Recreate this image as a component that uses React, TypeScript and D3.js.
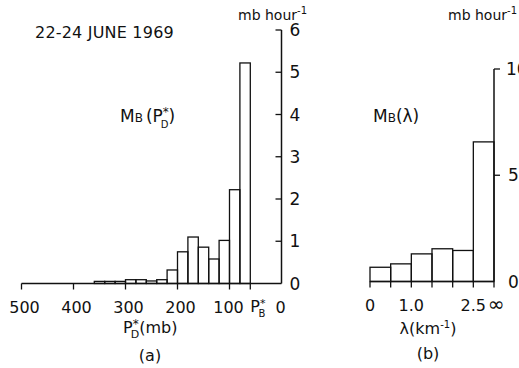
import React from "react";
import * as d3 from "d3";

// Panel (a): M_B(P_D*) histogram, 20 mb bins, values in mb hour^-1
const pdBinTop = [500, 360, 340, 320, 300, 280, 260, 240, 220, 200, 180, 160, 140, 120, 100, 80];
const pdBinBottom = [360, 340, 320, 300, 280, 260, 240, 220, 200, 180, 160, 140, 120, 100, 80, 60];
const pdValues = [0, 0.05, 0.05, 0.05, 0.09, 0.09, 0.06, 0.09, 0.32, 0.75, 1.1, 0.86, 0.58, 1.02, 2.22, 5.22];
const pdTicks = [500, 400, 300, 200, 100];
const pBStar = 60;
const yTicksA = [0, 1, 2, 3, 4, 5, 6];

// Panel (b): M_B(lambda) histogram
const lamStart = [0, 0.5, 1.0, 1.5, 2.0, 2.5];
const lamEnd = [0.5, 1.0, 1.5, 2.0, 2.5, 3.0]; // 3.0 stands for infinity
const lamValues = [0.67, 0.83, 1.3, 1.54, 1.46, 6.57];
const lamTicks = [0, 0.5, 1.0, 1.5, 2.0, 2.5, 3.0];
const lamTickLabels = ["0", "", "1.0", "", "", "2.5", "∞"];
const yTicksB = [0, 5, 10];

const FONT = "'DejaVu Sans', sans-serif";
const INK = "#111";

export default function App() {
  const W = 519, H = 368;
  const xA = d3.scaleLinear().domain([500, 0]).range([21.5, 281.5]);
  const yA = d3.scaleLinear().domain([0, 6]).range([283.5, 30]);
  const xB = d3.scaleLinear().domain([0, 3]).range([370, 494]);
  const yB = d3.scaleLinear().domain([0, 10]).range([281.5, 69]);

  return (
    <svg width={W} height={H} style={{ position: "absolute", left: 0, top: 0, background: "#fff" }}
      fontFamily={FONT} fill={INK}>
      {/* Panel (a) */}
      <text x={35} y={38} fontSize={16} letterSpacing={0.2}>22-24 JUNE 1969</text>
      <text x={238} y={20} fontSize={14}>mb hour<tspan dy={-6} fontSize={10}>-1</tspan></text>
      <text x={120} y={122} fontSize={17}>M<tspan fontSize={12}>B</tspan><tspan dx={3}>(P</tspan><tspan dy={-6} fontSize={12}>*</tspan><tspan dx={-8} dy={12} fontSize={10}>D</tspan><tspan dy={-6}>)</tspan></text>

      {pdValues.map((v, i) => (
        <rect key={i} x={xA(pdBinTop[i])} y={yA(v)} width={xA(pdBinBottom[i]) - xA(pdBinTop[i])}
          height={yA(0) - yA(v)} fill="none" stroke={INK} strokeWidth={1.3} />
      ))}
      <line x1={xA(500)} x2={xA(0)} y1={yA(0)} y2={yA(0)} stroke={INK} strokeWidth={1.5} />
      <line x1={xA(0)} x2={xA(0)} y1={yA(0)} y2={yA(6)} stroke={INK} strokeWidth={1.5} />
      {yTicksA.map(t => (
        <g key={t}>
          {t > 0 && <line x1={xA(0) - 6} x2={xA(0)} y1={yA(t)} y2={yA(t)} stroke={INK} strokeWidth={1.3} />}
          <text x={xA(0) + 8} y={yA(t) + 6} fontSize={17}>{t}</text>
        </g>
      ))}
      {pdTicks.map(t => (
        <g key={t}>
          <line x1={xA(t)} x2={xA(t)} y1={yA(0)} y2={yA(0) + 6} stroke={INK} strokeWidth={1.3} />
          <text x={xA(t) + (t === 100 ? -1 : 3)} y={313} fontSize={16} textAnchor="middle">{t}</text>
        </g>
      ))}
      <line x1={xA(pBStar)} x2={xA(pBStar)} y1={yA(0)} y2={yA(0) + 6} stroke={INK} strokeWidth={1.3} />
      <text x={xA(pBStar)} y={312} fontSize={16}>P<tspan dy={-5} fontSize={11}>*</tspan><tspan dx={-7} dy={10} fontSize={10}>B</tspan></text>
      <text x={xA(0) - 1} y={313} fontSize={16} textAnchor="middle">0</text>
      <text x={123} y={333} fontSize={16}>P<tspan dy={-5} fontSize={12}>*</tspan><tspan dx={-8} dy={10} fontSize={11}>D</tspan><tspan dy={-5}>(mb)</tspan></text>
      <text x={150} y={361} fontSize={16} textAnchor="middle">(a)</text>

      {/* Panel (b) */}
      <text x={448} y={20} fontSize={14}>mb hour<tspan dy={-6} fontSize={10}>-1</tspan></text>
      <text x={373} y={122} fontSize={17}>M<tspan fontSize={12}>B</tspan><tspan>(λ)</tspan></text>
      {lamValues.map((v, i) => (
        <rect key={i} x={xB(lamStart[i])} y={yB(v)} width={xB(lamEnd[i]) - xB(lamStart[i])}
          height={yB(0) - yB(v)} fill="none" stroke={INK} strokeWidth={1.3} />
      ))}
      <line x1={xB(0)} x2={xB(3)} y1={yB(0)} y2={yB(0)} stroke={INK} strokeWidth={1.5} />
      <line x1={xB(3)} x2={xB(3)} y1={yB(0)} y2={yB(10)} stroke={INK} strokeWidth={1.5} />
      {yTicksB.map(t => (
        <g key={t}>
          {t > 0 && <line x1={xB(3)} x2={xB(3) + 6} y1={yB(t)} y2={yB(t)} stroke={INK} strokeWidth={1.3} />}
          <text x={xB(3) + (t === 10 ? 12 : 14)} y={yB(t) + 6} fontSize={17}>{t}</text>
        </g>
      ))}
      {lamTicks.map((t, i) => (
        <g key={t}>
          <line x1={xB(t)} x2={xB(t)} y1={yB(0)} y2={yB(0) + 6} stroke={INK} strokeWidth={1.3} />
          <text x={xB(t) + (i === 6 ? 2 : 0)} y={311} fontSize={i === 6 ? 20 : 16} textAnchor="middle">{lamTickLabels[i]}</text>
        </g>
      ))}
      <text x={428} y={334} fontSize={16} textAnchor="middle">λ(km<tspan dy={-6} fontSize={10}>-1</tspan><tspan dy={6}>)</tspan></text>
      <text x={428} y={359} fontSize={16} textAnchor="middle">(b)</text>
    </svg>
  );
}
